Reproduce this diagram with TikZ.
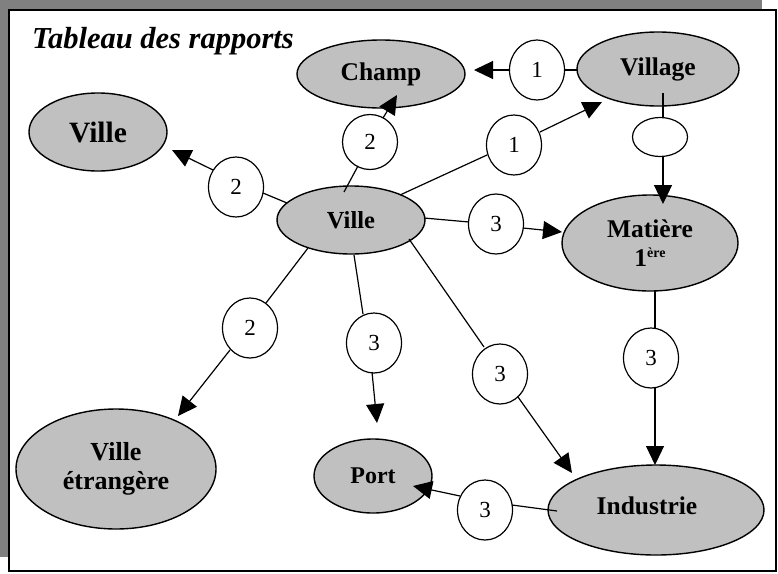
\documentclass[tikz,border=0pt]{standalone}
\usepackage{fontspec}
\setmainfont{Liberation Serif}
\usetikzlibrary{arrows.meta,shapes.geometric,calc}
\definecolor{shadowgray}{RGB}{128,128,128}
\definecolor{nodegray}{RGB}{192,192,192}
\begin{document}
\begin{tikzpicture}[x=1pt,y=-1pt,
  bignode/.style={ellipse,draw=black,line width=1.4pt,fill=nodegray,inner sep=0pt,
    font=\fontsize{25.5}{29}\selectfont\bfseries,align=center},
  tag/.style={ellipse,draw=black,line width=1.2pt,fill=white,inner sep=0pt,
    minimum width=55pt,minimum height=60pt,font=\fontsize{23}{26}\selectfont},
  link/.style={line width=1.2pt},
  arr/.style={line width=1.2pt,-{Triangle[length=19pt,width=18pt]}}
]
\useasboundingbox (0,0) rectangle (778,573);
\fill[shadowgray] (0,0) rectangle (762,557);
\draw[line width=1.5pt,fill=white] (9,10) rectangle (776,571);

\node[anchor=base west,inner sep=0pt,font=\fontsize{30.5}{36}\selectfont\bfseries\itshape] (title) at (32,48) {Tableau des rapports};

% main nodes
\node[bignode,minimum width=168pt,minimum height=68pt] (champ) at (381,74) {Champ};
\node[bignode,minimum width=162pt,minimum height=74pt] (village) at (658,69) {Village};
\node[bignode,minimum width=138pt,minimum height=78pt,font=\fontsize{29.5}{32}\selectfont\bfseries] (villeL) at (98,132) {Ville};
\node[bignode,minimum width=148pt,minimum height=68pt,font=\fontsize{24.5}{28}\selectfont\bfseries] (ville) at (351,220) {Ville};
\node[bignode,minimum width=176pt,minimum height=96pt] (mat) at (650,243) {Matière\\1\raisebox{9pt}{\fontsize{14}{14}\selectfont ère}};
\node[bignode,minimum width=200pt,minimum height=120pt,font=\fontsize{26}{29}\selectfont\bfseries] (vetr) at (116,469) {Ville\\étrangère};
\node[bignode,minimum width=118pt,minimum height=74pt,font=\fontsize{24}{28}\selectfont\bfseries] (port) at (373,476) {Port};
\node[bignode,minimum width=216pt,minimum height=90pt] (ind) at (656,510) {\raisebox{8pt}{Industrie}\hspace{18pt}};

% tag circles
\node[tag] (a1) at (537,70) {1};
\node[tag] (b1) at (514,145) {1};
\node[tag,minimum height=39pt] (e0) at (660,137) {};
\node[tag,minimum height=55pt] (c2) at (370,142) {2};
\node[tag] (l2) at (236,187) {2};
\node[tag] (m3) at (496,224) {3};
\node[tag] (e2) at (250,328) {2};
\node[tag] (p3) at (374,343) {3};
\node[tag] (i3) at (500,374) {3};
\node[tag] (mi3) at (651,358) {3};
\node[tag] (ip3) at (485,510) {3};

% connectors
\draw[link] ($(village.center)+(-81,1)$) -- ($(a1.center)+(27,0)$);
\draw[arr] ($(a1.center)+(-27,0)$) -- ($(champ.center)+(93,-4)$);

\draw[link] ($(ville.center)+(49,-25)$) -- ($(b1.center)+(-27,10)$);
\draw[arr] ($(b1.center)+(26,-13)$) -- ($(village.center)+(-56,33)$);

\draw[link] ($(village.center)+(5,24)$) -- ($(e0.center)+(3,-19.5)$);
\draw[arr] ($(e0.center)+(3,19.5)$) -- ($(mat.center)+(13,-39)$);

\draw[link] ($(ville.center)+(-7,-28)$) -- ($(c2.center)+(-12,24)$);
\draw[arr] ($(c2.center)+(13,-24)$) -- ($(champ.center)+(16,21)$);

\draw[link] ($(ville.center)+(-64,-17)$) -- ($(l2.center)+(27,6)$);
\draw[arr] ($(l2.center)+(-23,-17)$) -- ($(villeL.center)+(74,18)$);

\draw[link] ($(ville.center)+(73,-2)$) -- ($(m3.center)+(-27,-2)$);
\draw[arr] ($(m3.center)+(27,4)$) -- ($(mat.center)+(-88,-11)$);

\draw[link] ($(ville.center)+(-43,28)$) -- ($(e2.center)+(16,-25)$);
\draw[arr] ($(e2.center)+(-20,22)$) -- ($(vetr.center)+(62,-53)$);

\draw[link] ($(ville.center)+(3,35)$) -- ($(p3.center)+(-11,-29)$);
\draw[arr] ($(p3.center)+(-2,29)$) -- ($(port.center)+(4,-53)$);

\draw[link] ($(ville.center)+(58,19)$) -- ($(i3.center)+(-16,-27)$);
\draw[arr] ($(i3.center)+(18,23)$) -- ($(ind.center)+(-84,-37)$);

\draw[link] ($(mat.center)+(5,48)$) -- ($(mi3.center)+(4,-29)$);
\draw[arr] ($(mi3.center)+(4,29)$) -- ($(ind.center)+(-1,-45)$);

\draw[link] ($(ind.center)+(-99,1)$) -- ($(ip3.center)+(27,-5)$);
\draw[arr] ($(ip3.center)+(-25,-14)$) -- ($(port.center)+(40,10)$);
\end{tikzpicture}
\end{document}
